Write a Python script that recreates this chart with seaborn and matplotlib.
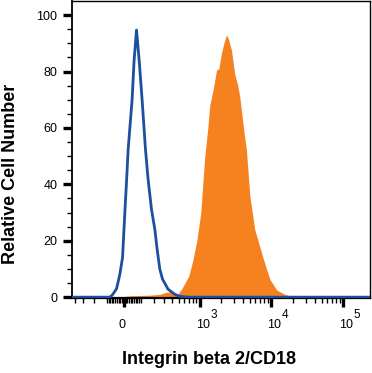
import numpy as np
import pandas as pd
import matplotlib
matplotlib.use("Agg")
import matplotlib.pyplot as plt
import matplotlib.transforms as mtransforms
import seaborn as sns

# ---- data (x in display "decade" units of a biexponential axis) ----
blue_x = [-0.72, -0.20, -0.171, -0.153, -0.101, -0.056, -0.018, 0.014, 0.0375, 0.060,
          0.115, 0.143, 0.176, 0.213, 0.254, 0.301, 0.3375, 0.385, 0.431, 0.4625,
          0.500, 0.5375, 0.615, 0.708, 0.778, 0.90, 3.42]
blue_y = [0, 0, 0.5, 1, 3, 8, 14, 30, 41, 52.3,
          70, 84, 94.7, 84, 70, 52.3, 41.7, 31, 24, 17,
          9.9, 6.4, 2.8, 1, 0.3, 0, 0]

orange_x = [-0.10, 0.10, 0.361, 0.500, 0.600, 0.690, 0.750, 0.806, 0.903, 0.958,
            1.014, 1.069, 1.097, 1.125, 1.167, 1.194, 1.240, 1.288, 1.319, 1.357,
            1.389, 1.426, 1.454, 1.496, 1.514, 1.542, 1.583, 1.611, 1.639, 1.667,
            1.704, 1.750, 1.819, 1.935, 2.028, 2.125, 2.236, 2.375]
orange_y = [0, 0.5, 0.7, 1, 1.8, 1.8, 1, 3, 7.5, 13,
            20, 30, 40, 50, 60, 68, 73.5, 80.5, 81, 86.6,
            90, 93, 91.5, 87.5, 84, 79, 75, 71, 65, 59,
            52, 36, 24, 13.8, 6.4, 2.5, 1, 0]

xtick_values = [0, 1e3, 1e4, 1e5]
xtick_bases = ["0", "10", "10", "10"]
xtick_exps = ["", "3", "4", "5"]
ytick_values = [0, 20, 40, 60, 80, 100]

W = 178.0
def t(v):
    return np.arcsinh(np.asarray(v, dtype=float) / W) / np.log(10)

sns.set_style("white")
plt.rcParams["font.family"] = ["Liberation Sans", "DejaVu Sans"]
plt.rcParams["text.color"] = "black"
plt.rcParams["axes.labelcolor"] = "black"
plt.rcParams["xtick.color"] = "black"
plt.rcParams["ytick.color"] = "black"

fig = plt.figure(figsize=(3.72, 3.73), dpi=100)
ax = fig.add_axes([72/372, 1 - 298/373, 298/372, 297/373])

dfo = pd.DataFrame({"x": orange_x, "y": orange_y})
dfb = pd.DataFrame({"x": blue_x, "y": blue_y})
ax.fill_between(dfo["x"], dfo["y"], 0, color="#f5821f", lw=0, zorder=2)
sns.lineplot(data=dfb, x="x", y="y", ax=ax, color="#1c4f9e", lw=2.0, zorder=3,
             sort=False, estimator=None)

ax.set_xlim(-0.72, 3.42)
ax.set_ylim(-0.3, 105)

xt = t(xtick_values)
ax.set_xticks(xt)
ax.set_xticklabels(xtick_bases)
minor = []
for k in [1, 2]:
    for m in range(1, 10):
        minor += [m * 10**k, -m * 10**k]
for k in [3, 4]:
    for m in range(2, 10):
        minor.append(m * 10**k)
minor = [v for v in minor if v > -450]
ax.set_xticks(t(minor), minor=True)
ax.set_yticks(ytick_values)
ax.set_yticks(np.arange(0, 105, 5), minor=True)

for s in ax.spines.values():
    s.set_color("black")
    s.set_linewidth(1.0)
ax.spines["left"].set_linewidth(1.3)
ax.spines["bottom"].set_linewidth(1.6)

ax.tick_params(axis="both", which="major", direction="out", length=6.5, width=2.4,
               color="black", labelsize=9, labelcolor="black", bottom=True, left=True)
ax.tick_params(axis="both", which="minor", direction="out", length=3.5, width=1.0,
               color="black", bottom=True, left=True)
ax.tick_params(axis="x", which="major", pad=8.5)
ax.tick_params(axis="y", which="major", pad=4)

for i, lab in enumerate(ax.get_xticklabels()):
    if i > 0:
        lab.set_ha("left")
        lab.set_transform(lab.get_transform() +
                          mtransforms.ScaledTranslation(-4/100, 0, fig.dpi_scale_trans))
    else:
        lab.set_transform(lab.get_transform() +
                          mtransforms.ScaledTranslation(-2/100, 0, fig.dpi_scale_trans))

for xv, e in zip(xt, xtick_exps):
    if e:
        ax.annotate(e, xy=(xv, 0), xycoords=("data", "axes fraction"),
                    xytext=(10.5, -11.5), textcoords="offset pixels",
                    ha="left", va="top", fontsize=8.5, color="black",
                    annotation_clip=False)

ax.set_xlabel("Integrin beta 2/CD18", fontsize=13, fontweight="bold", color="black")
ax.set_ylabel("Relative Cell Number", fontsize=13, fontweight="bold", color="black")
ax.xaxis.set_label_coords((208.5 - 72) / 298, -(351 - 298) / 297)
ax.yaxis.set_label_coords(-(72 - 19) / 298, (298 - 174) / 297)

fig.savefig("out.png", dpi=100)
